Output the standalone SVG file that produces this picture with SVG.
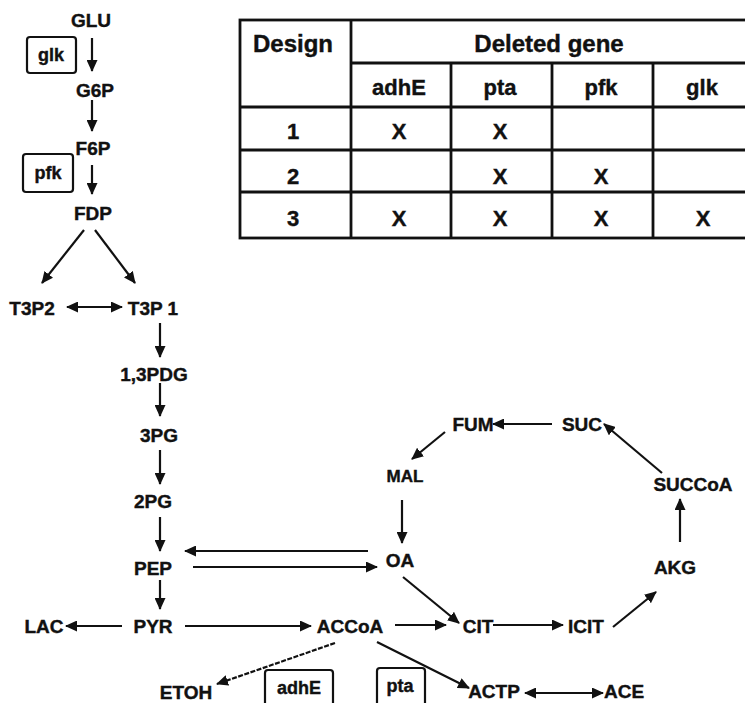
<svg xmlns="http://www.w3.org/2000/svg" width="745" height="703" viewBox="0 0 745 703">
<defs>
<marker id="ah" markerUnits="userSpaceOnUse" markerWidth="12" markerHeight="11" refX="11" refY="5.5" orient="auto-start-reverse" viewBox="0 0 12 11">
<path d="M0,0 L12,5.5 L0,11 z" fill="#111"/>
</marker>
<style>
text{font-family:"Liberation Sans",Arial,sans-serif;font-weight:bold;fill:#111;text-anchor:middle;stroke:#111;stroke-width:0.4}
.n{font-size:19px}
.g{font-size:18px}
.th{font-size:24px}
.td{font-size:22px}
.e{stroke:#111;stroke-width:2.2;fill:none;marker-end:url(#ah)}
.d{marker-start:url(#ah)}
.box{fill:#fff;stroke:#111;stroke-width:2.2}
.tl{stroke:#111;stroke-width:2.8;fill:none}
</style>
</defs>
<rect width="745" height="703" fill="#fff"/>

<g id="table">
<rect class="tl" x="240" y="20" width="530" height="218" stroke-width="3.2"/>
<line class="tl" x1="351" y1="20" x2="351" y2="238"/>
<line class="tl" x1="351" y1="63" x2="770" y2="63"/>
<line class="tl" x1="240" y1="107" x2="770" y2="107"/>
<line class="tl" x1="240" y1="150" x2="770" y2="150"/>
<line class="tl" x1="240" y1="192" x2="770" y2="192"/>
<line class="tl" x1="451" y1="63" x2="451" y2="238"/>
<line class="tl" x1="552" y1="63" x2="552" y2="238"/>
<line class="tl" x1="653" y1="63" x2="653" y2="238"/>
<text class="th" x="293" y="52">Design</text>
<text class="th" x="549" y="52">Deleted gene</text>
<text class="td" x="399" y="95">adhE</text>
<text class="td" x="500" y="95">pta</text>
<text class="td" x="601" y="95">pfk</text>
<text class="td" x="702" y="95">glk</text>
<text class="td" x="293" y="139">1</text>
<text class="td" x="399" y="139">X</text>
<text class="td" x="500" y="139">X</text>
<text class="td" x="293" y="184">2</text>
<text class="td" x="500" y="184">X</text>
<text class="td" x="601" y="184">X</text>
<text class="td" x="293" y="226">3</text>
<text class="td" x="399" y="226">X</text>
<text class="td" x="500" y="226">X</text>
<text class="td" x="601" y="226">X</text>
<text class="td" x="703" y="226">X</text>
</g>

<g id="connectors">
<line class="e" x1="92" y1="38" x2="92" y2="71"/>
<line class="e" x1="92" y1="100" x2="92" y2="131"/>
<line class="e" x1="92" y1="165" x2="92" y2="194"/>
<line class="e" x1="84" y1="230" x2="42" y2="283"/>
<line class="e" x1="95" y1="230" x2="135" y2="283"/>
<line class="e d" x1="67" y1="307" x2="122" y2="307"/>
<line class="e" x1="160" y1="323" x2="160" y2="357"/>
<line class="e" x1="160" y1="383" x2="160" y2="416"/>
<line class="e" x1="160" y1="450" x2="160" y2="484"/>
<line class="e" x1="160" y1="517" x2="160" y2="551"/>
<line class="e" x1="160" y1="580" x2="160" y2="609"/>
<line class="e" x1="368" y1="551" x2="185" y2="551"/>
<line class="e" x1="193" y1="567" x2="377" y2="567"/>
<line class="e" x1="122" y1="626" x2="66" y2="626"/>
<line class="e" x1="185" y1="626" x2="311" y2="626"/>
<line class="e" x1="395" y1="625" x2="446" y2="625"/>
<line class="e" x1="493" y1="625" x2="563" y2="625"/>
<line class="e" x1="403" y1="577" x2="459" y2="623"/>
<line class="e" x1="613" y1="627" x2="656" y2="592"/>
<line class="e" x1="680" y1="542" x2="680" y2="499"/>
<line class="e" x1="662" y1="473" x2="604" y2="424"/>
<line class="e" x1="552" y1="424" x2="493" y2="424"/>
<line class="e" x1="445" y1="432" x2="412" y2="459"/>
<line class="e" x1="402" y1="500" x2="402" y2="543"/>
<line class="e" x1="335" y1="643" x2="217" y2="684" stroke-dasharray="5 1.5"/>
<line class="e" x1="377" y1="642" x2="469" y2="688"/>
<line class="e d" x1="525" y1="693" x2="603" y2="693"/>
</g>

<g id="n-GLU"><text class="n" x="91" y="27">GLU</text></g>
<g id="gene-glk"><rect class="box" x="27" y="37" width="49" height="36" rx="3"/><text class="g" x="51" y="61">glk</text></g>
<g id="n-G6P"><text class="n" x="95" y="97">G6P</text></g>
<g id="n-F6P"><text class="n" x="93" y="155">F6P</text></g>
<g id="gene-pfk"><rect class="box" x="23" y="154" width="50" height="38" rx="3"/><text class="g" x="48" y="179">pfk</text></g>
<g id="n-FDP"><text class="n" x="93" y="220">FDP</text></g>
<g id="n-T3P2"><text class="n" x="32" y="315">T3P2</text></g>
<g id="n-T3P1"><text class="n" x="153" y="315">T3P 1</text></g>
<g id="n-13PDG"><text class="n" x="154" y="381">1,3PDG</text></g>
<g id="n-3PG"><text class="n" x="159" y="442">3PG</text></g>
<g id="n-2PG"><text class="n" x="153" y="508">2PG</text></g>
<g id="n-PEP"><text class="n" x="153" y="575">PEP</text></g>
<g id="n-PYR"><text class="n" x="153" y="633">PYR</text></g>
<g id="n-LAC"><text class="n" x="44" y="633">LAC</text></g>
<g id="n-ACCoA"><text class="n" x="350" y="633">ACCoA</text></g>
<g id="n-OA"><text class="n" x="400" y="567">OA</text></g>
<g id="n-MAL"><text class="n" x="405" y="482" style="font-size:17px">MAL</text></g>
<g id="n-FUM"><text class="n" x="473" y="431">FUM</text></g>
<g id="n-SUC"><text class="n" x="582" y="431">SUC</text></g>
<g id="n-SUCCoA"><text class="n" x="693" y="491">SUCCoA</text></g>
<g id="n-AKG"><text class="n" x="675" y="574">AKG</text></g>
<g id="n-CIT"><text class="n" x="478" y="633">CIT</text></g>
<g id="n-ICIT"><text class="n" x="586" y="633">ICIT</text></g>
<g id="n-ETOH"><text class="n" x="186" y="699">ETOH</text></g>
<g id="gene-adhE"><rect class="box" x="265" y="670" width="68" height="36" rx="3"/><text class="g" x="299" y="694">adhE</text></g>
<g id="gene-pta"><rect class="box" x="377" y="668" width="48" height="38" rx="3"/><text class="g" x="400" y="692">pta</text></g>
<g id="n-ACTP"><text class="n" x="494" y="698">ACTP</text></g>
<g id="n-ACE"><text class="n" x="624" y="698">ACE</text></g>
</svg>
